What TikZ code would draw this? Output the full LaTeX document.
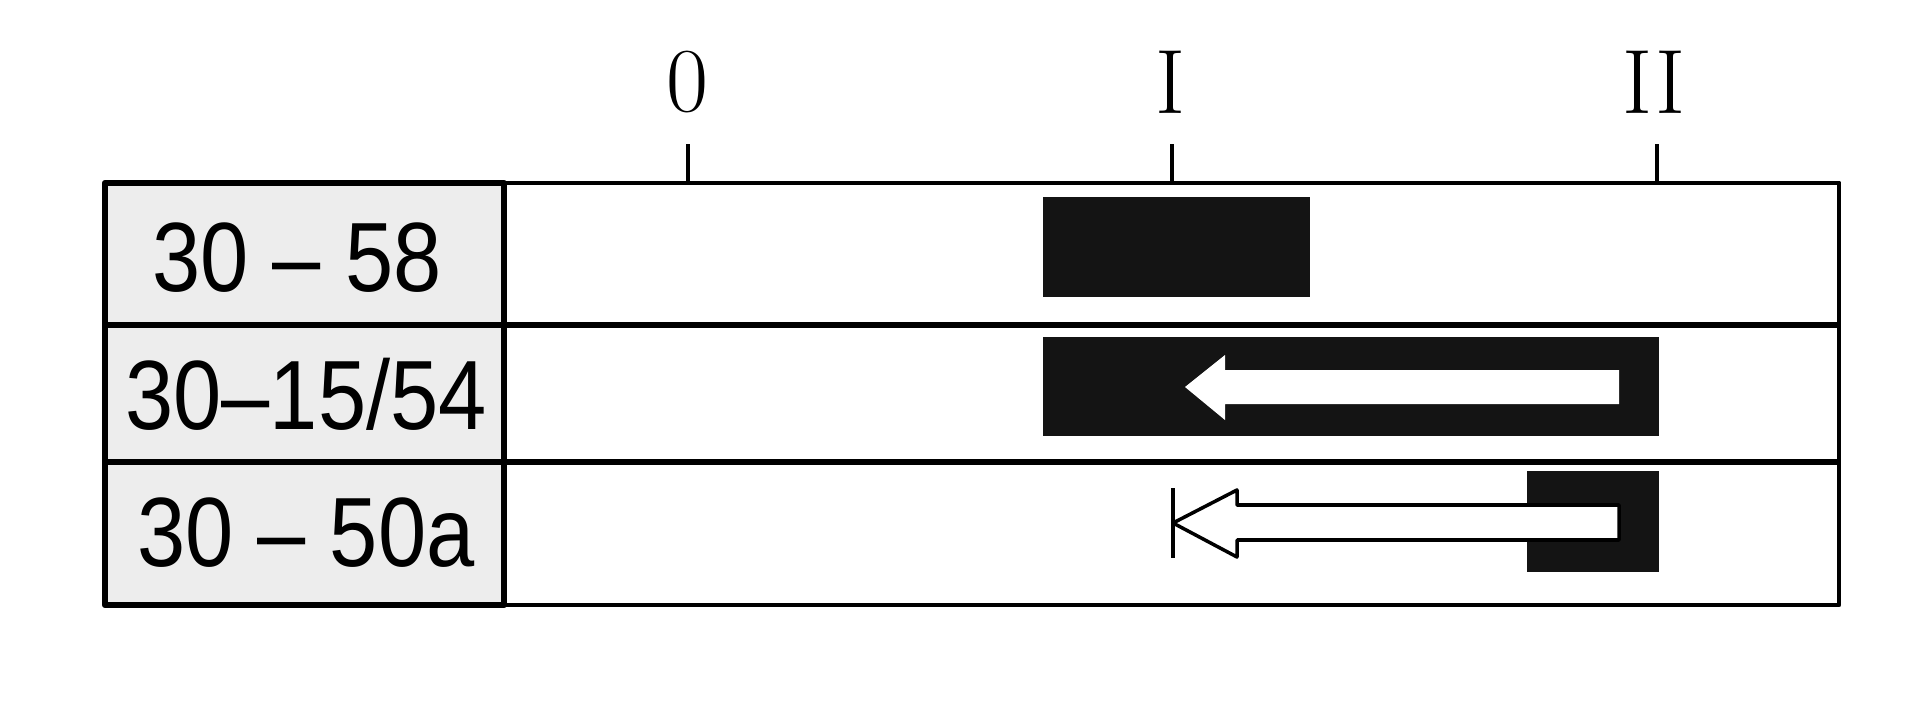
\documentclass[tikz,border=0pt]{standalone}
\usepackage{fontspec}
\newfontfamily\rowfont[FakeStretch = 0.88]{Liberation Sans}

\begin{document}
\begin{tikzpicture}[x = 0.01cm, y = -0.01cm, line join = round,
    rowlabel/.style = {font = \rowfont\fontsize{28pt}{30pt}\selectfont},
    ticklabel/.style = {font = \fontsize{26pt}{30pt}\selectfont}]
    \useasboundingbox [fill = white] (0, 0) rectangle (1920, 712);
    % label column and chart frame
    \filldraw [fill = black!7, draw = black, line width = 1.8pt] (105, 183) rectangle (504, 605);
    \draw [line width = 1.4pt] (504, 183) rectangle (1839, 605);
    \draw [line width = 1.5pt] (105, 325) -- (1839, 325);
    \draw [line width = 1.5pt] (105, 462) -- (1839, 462);
    \draw [line width = 1.8pt] (504, 183) -- (504, 605);
    % scale
    \foreach \x in {688, 1172, 1657}
        \draw [line width = 1pt] (\x, 144) -- (\x, 183);
    \node [ticklabel] (t0) at (687, 82) {0};
    \node [ticklabel] (tI) at (1170, 82) {I};
    \node [ticklabel] (tII) at (1654, 82) {II};
    % rows
    \node [rowlabel] (r58) at (297, 258) {30 – 58};
    \node [rowlabel] (r15) at (306, 394) {30–15/54};
    \node [rowlabel] (r50a) at (306, 533) {30 – 50a};
    \fill [black!92] (1043, 197) rectangle (1310, 297);
    \fill [black!92] (1043, 337) rectangle (1659, 436);
    \fill [white] (1185, 387) -- (1225, 355) -- (1225, 370) -- (1619, 370)
        -- (1619, 404) -- (1225, 404) -- (1225, 420) -- cycle;
    \fill [black!92] (1527, 471) rectangle (1659, 572);
    \filldraw [fill = white, draw = black, line width = 1pt] (1173, 523) -- (1237, 490) -- (1237, 505)
        -- (1619, 505) -- (1619, 540) -- (1237, 540) -- (1237, 557) -- cycle;
    \draw [line width = 1pt] (1173, 488) -- (1173, 558);
\end{tikzpicture}
\end{document}
